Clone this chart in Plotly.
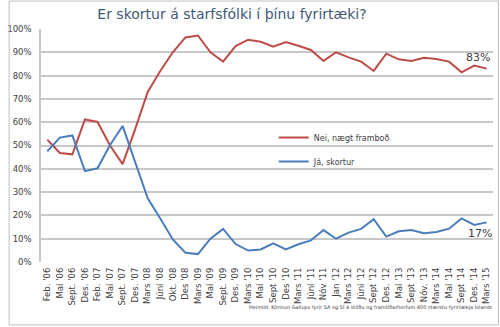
import plotly.graph_objects as go

# Survey rounds (x axis)
periods = [
    "Feb. '06", "Maí '06", "Sept. '06", "Des. '06", "Feb. '07", "Maí '07",
    "Sept. '07", "Des. '07", "Mars '08", "Júní '08", "Okt. '08", "Des '08",
    "Mars '09", "Maí '09", "Sept. '09", "Des. '09", "Mars '10", "Maí '10",
    "Sept '10", "Des '10", "Mars '11", "Júní '11", "Nóv '11", "Jan '12",
    "Mars '12", "Júní '12", "Sept '12", "Des. '12", "Maí '13", "Sept '13",
    "Nóv. '13", "Mars '14", "Maí '14", "Sept '14", "Des. '14", "Mars '15",
]

# Share of firms answering "No, sufficient supply" (%)
nei = [52.5, 46.8, 46.2, 61.2, 60.1, 50.0, 42.0, 57.0, 73.0, 82.0, 90.0, 96.4,
       97.2, 90.0, 86.0, 92.7, 95.4, 94.5, 92.4, 94.4, 92.8, 91.0, 86.3, 90.0,
       87.8, 86.0, 82.0, 89.4, 87.0, 86.3, 87.7, 87.1, 86.0, 81.4, 84.3, 83.0]

# Share of firms answering "Yes, shortage" (%)
ja = [47.5, 53.4, 54.3, 39.0, 40.2, 50.2, 58.4, 43.0, 27.3, 18.7, 9.7, 4.0,
      3.4, 10.0, 14.2, 7.7, 4.9, 5.4, 8.0, 5.4, 7.6, 9.3, 13.7, 10.0,
      12.6, 14.2, 18.4, 10.9, 13.2, 13.7, 12.3, 12.9, 14.3, 18.7, 15.9, 17.0]

y_ticks = [0, 10, 20, 30, 40, 50, 60, 70, 80, 90, 100]

RED = "#BE4B48"
BLUE = "#4A7EBB"
FONT = "DejaVu Sans"
TEXT = "#404040"

fig = go.Figure()
fig.add_trace(go.Scatter(
    x=periods, y=nei, mode="lines", name="Nei, nægt framboð",
    line=dict(color=RED, width=2), legendgroup="a",
))
fig.add_trace(go.Scatter(
    x=periods, y=ja, mode="lines", name="Já, skortur",
    line=dict(color=BLUE, width=2), legendgroup="b",
))

# value labels on the final survey round
fig.add_annotation(x=periods[-1], y=nei[-1], text=f"{nei[-1]:.0f}%",
                   showarrow=False, xanchor="center", yanchor="bottom",
                   xshift=-9, yshift=3,
                   font=dict(family=FONT, size=11, color=TEXT))
fig.add_annotation(x=periods[-1], y=ja[-1], text=f"{ja[-1]:.0f}%",
                   showarrow=False, xanchor="center", yanchor="top",
                   xshift=-7, yshift=-3,
                   font=dict(family=FONT, size=11, color=TEXT))

fig.add_annotation(
    x=1.004, y=-0.197, xref="paper", yref="paper", xanchor="right", yanchor="middle",
    text="Heimild: Könnun Gallups fyrir SA og SÍ á stöðu og framtíðarhorfum 400 stærstu fyrirtækja Íslands",
    showarrow=False, font=dict(family=FONT, size=5, color=TEXT),
)

fig.update_layout(
    width=500, height=327,
    margin=dict(l=33, r=7, t=29, b=65),
    paper_bgcolor="white", plot_bgcolor="white",
    font=dict(family=FONT, size=9, color=TEXT),
    title=dict(
        text="Er skortur á starfsfólki í þínu fyrirtæki?",
        x=0.464, xanchor="center", xref="container",
        y=0.957, yanchor="middle", yref="container",
        font=dict(family=FONT, size=14, color="#3E5876"),
    ),
    showlegend=True,
    legend=dict(
        x=0.515, y=0.597, xanchor="left", yanchor="top",
        bgcolor="rgba(0,0,0,0)", font=dict(family=FONT, size=8, color=TEXT),
        traceorder="grouped", tracegroupgap=5, itemwidth=30,
    ),
    shapes=[dict(type="rect", xref="paper", yref="paper",
                 x0=-0.0705, x1=1.012, y0=-0.27, y1=1.12,
                 line=dict(color="#BFBFBF", width=1))],
)
fig.update_xaxes(
    type="category", range=[-0.5, len(periods) - 0.5],
    tickangle=-90, tickfont=dict(family=FONT, size=8.5, color=TEXT),
    showgrid=False, showline=False, ticks="", zeroline=False,
    ticklabelstandoff=3,
)
fig.update_yaxes(
    range=[0, 100], tickvals=y_ticks, ticktext=[f"{v}%" for v in y_ticks],
    tickfont=dict(family=FONT, size=8.5, color=TEXT),
    showgrid=True, gridcolor="#C8C8C8", gridwidth=1.5,
    showline=True, linecolor="#C8C8C8", linewidth=1.5,
    zeroline=False, ticks="", ticklabelstandoff=6,
)

fig.write_html("out.html")
